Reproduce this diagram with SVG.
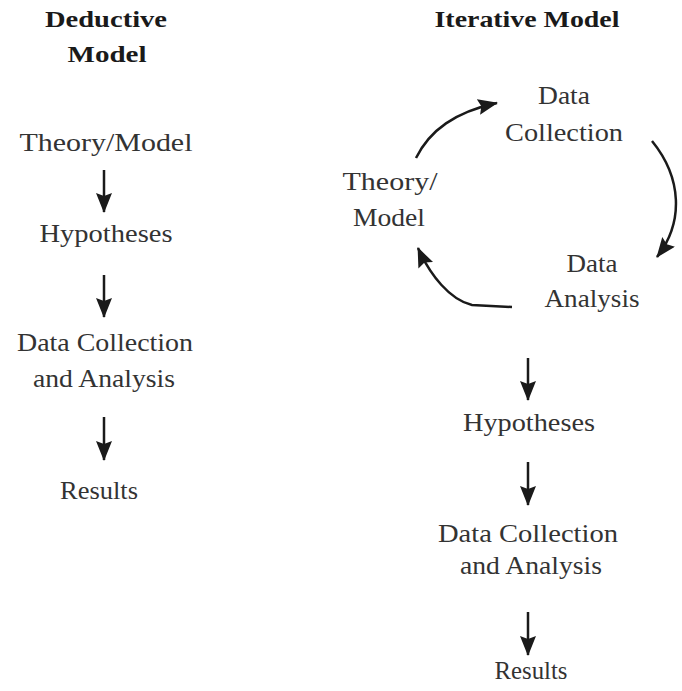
<svg xmlns="http://www.w3.org/2000/svg" width="682" height="691" viewBox="0 0 682 691">
<style>
text{font-family:"Liberation Serif","Times New Roman",serif;fill:#333;font-size:25px;text-anchor:middle}
.t{font-weight:bold;fill:#1a1a1a;font-size:24px}
.c path{fill:none;stroke:#1a1a1a;stroke-width:2.5}
</style>
<defs>
<marker id="ah" markerUnits="userSpaceOnUse" markerWidth="22" markerHeight="18" refX="19" refY="8" orient="auto">
<path d="M0,0 L20,8 L0,16 L3,8 z" fill="#1a1a1a"/>
</marker>
</defs>
<rect width="682" height="691" fill="#fff"/>
<g id="deductive-title"><text class="t" x="106" y="27" textLength="122" lengthAdjust="spacingAndGlyphs">Deductive</text><text class="t" x="107" y="62" textLength="79" lengthAdjust="spacingAndGlyphs">Model</text></g>
<g id="d-theory"><text x="106" y="151" textLength="173" lengthAdjust="spacingAndGlyphs">Theory/Model</text></g>
<g id="d-hyp"><text x="106" y="242" textLength="133" lengthAdjust="spacingAndGlyphs">Hypotheses</text></g>
<g id="d-data"><text x="105" y="351" textLength="176" lengthAdjust="spacingAndGlyphs">Data Collection</text><text x="104" y="387" textLength="142" lengthAdjust="spacingAndGlyphs">and Analysis</text></g>
<g id="d-results"><text x="99" y="499" textLength="78" lengthAdjust="spacingAndGlyphs">Results</text></g>
<g id="iterative-title"><text class="t" x="527" y="27" textLength="185" lengthAdjust="spacingAndGlyphs">Iterative Model</text></g>
<g id="i-datacollection"><text x="564" y="104" textLength="52" lengthAdjust="spacingAndGlyphs">Data</text><text x="564" y="141" textLength="118" lengthAdjust="spacingAndGlyphs">Collection</text></g>
<g id="i-theory"><text x="390" y="190" textLength="95" lengthAdjust="spacingAndGlyphs">Theory/</text><text x="389" y="226" textLength="72" lengthAdjust="spacingAndGlyphs">Model</text></g>
<g id="i-dataanalysis"><text x="592" y="272" textLength="51" lengthAdjust="spacingAndGlyphs">Data</text><text x="592" y="307" textLength="95" lengthAdjust="spacingAndGlyphs">Analysis</text></g>
<g id="i-hyp"><text x="529" y="431" textLength="132" lengthAdjust="spacingAndGlyphs">Hypotheses</text></g>
<g id="i-data"><text x="528" y="542" textLength="180" lengthAdjust="spacingAndGlyphs">Data Collection</text><text x="531" y="574" textLength="142" lengthAdjust="spacingAndGlyphs">and Analysis</text></g>
<g id="i-results"><text x="531" y="679" textLength="73" lengthAdjust="spacingAndGlyphs">Results</text></g>
<g id="connectors" class="c">
<path d="M104,170 L104,212" marker-end="url(#ah)"/>
<path d="M104,275 L104,317" marker-end="url(#ah)"/>
<path d="M104,417 L104,460" marker-end="url(#ah)"/>
<path d="M528,358 L528,400" marker-end="url(#ah)"/>
<path d="M528,462 L528,505" marker-end="url(#ah)"/>
<path d="M528,612 L528,655" marker-end="url(#ah)"/>
<path d="M416,158 C430,130 455,112 497,103" marker-end="url(#ah)"/>
<path d="M652,141 C682,178 684,222 657,257" marker-end="url(#ah)"/>
<path d="M512,307 L472,305 C450,300 430,275 418,248" marker-end="url(#ah)"/>
</g>
</svg>
